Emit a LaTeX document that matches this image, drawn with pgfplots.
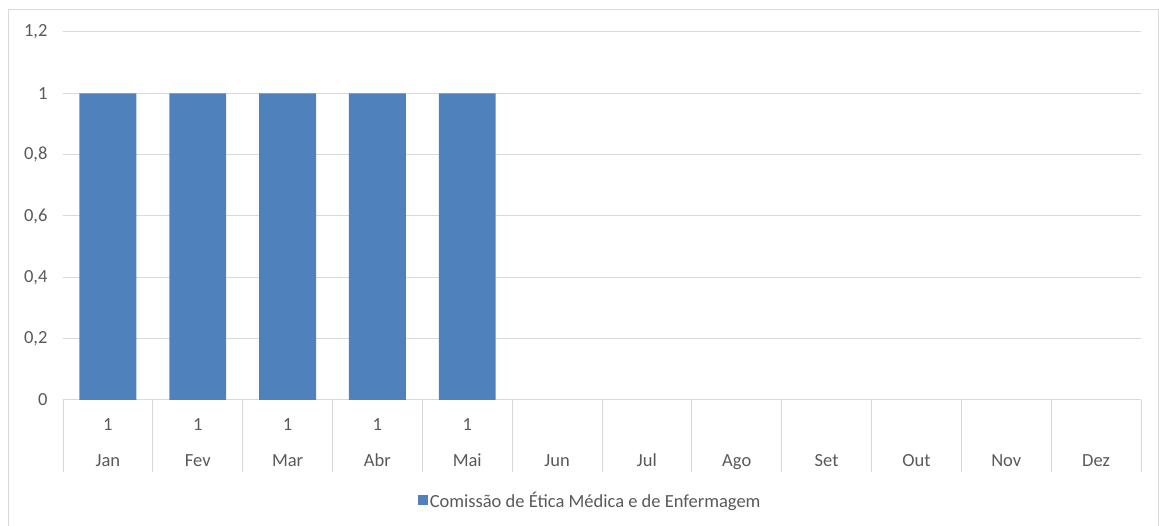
\documentclass[border=0pt]{standalone}
\usepackage{pgfplots}
\pgfplotsset{compat=1.18}
\usepackage{fontspec}
\setmainfont{Carlito}
\definecolor{barblue}{HTML}{4F81BD}
\definecolor{txtgray}{HTML}{595959}
\definecolor{gridgray}{HTML}{D9D9D9}
\begin{document}
\begin{tikzpicture}[x=1bp,y=1bp]
\useasboundingbox (0,0) rectangle (1159,526);
\draw[gridgray,line width=1bp] (8.5,-5) -- (8.5,516.5) -- (1158.5,516.5) -- (1158.5,-5);
\begin{axis}[
  at={(63bp,126bp)}, anchor=south west,
  scale only axis, width=1078bp, height=368bp,
  xmin=-0.5, xmax=11.5, ymin=0, ymax=1.2,
  ytick={0,0.2,0.4,0.6,0.8,1,1.2},
  /pgf/number format/use comma,
  /pgf/number format/fixed,
  /pgf/number format/precision=1,
  /pgf/number format/assume math mode=true,
  yticklabel style={font=\fontsize{18.5bp}{22bp}\selectfont, text=txtgray, xshift=-12bp},
  ymajorgrids, grid style={gridgray, line width=1bp},
  axis line style={draw=none},
  ytick style={draw=none},
  xtick={0,...,11},
  xticklabels={{1\\Jan},{1\\Fev},{1\\Mar},{1\\Abr},{1\\Mai},{\vphantom{1}\\Jun},{\vphantom{1}\\Jul},{\vphantom{1}\\Ago},{\vphantom{1}\\Set},{\vphantom{1}\\Out},{\vphantom{1}\\Nov},{\vphantom{1}\\Dez}},
  xticklabel style={align=center, font=\fontsize{18.5bp}{36bp}\selectfont, text=txtgray, yshift=-15bp},
  minor xtick={-0.5,0.5,...,11.5},
  xtick pos=bottom, tick align=outside,
  major tick length=0pt, minor tick length=72bp,
  minor tick style={draw=gridgray, line width=1bp},
  major tick style={draw=none},
  legend style={at={(0.489,-0.272)}, anchor=center, draw=none, fill=none,
    font=\fontsize{18.5bp}{22bp}\selectfont, text=txtgray},
  legend image code/.code={\fill[barblue] (0bp,-5bp) rectangle (10bp,5bp);},
  legend cell align=left,
  clip=false,
]
\addplot[ybar, bar width=0.634, fill=barblue, draw=none] coordinates {(0,1) (1,1) (2,1) (3,1) (4,1)};
\addlegendentry{Comissão de Ética Médica e de Enfermagem}
\end{axis}
\end{tikzpicture}
\end{document}
